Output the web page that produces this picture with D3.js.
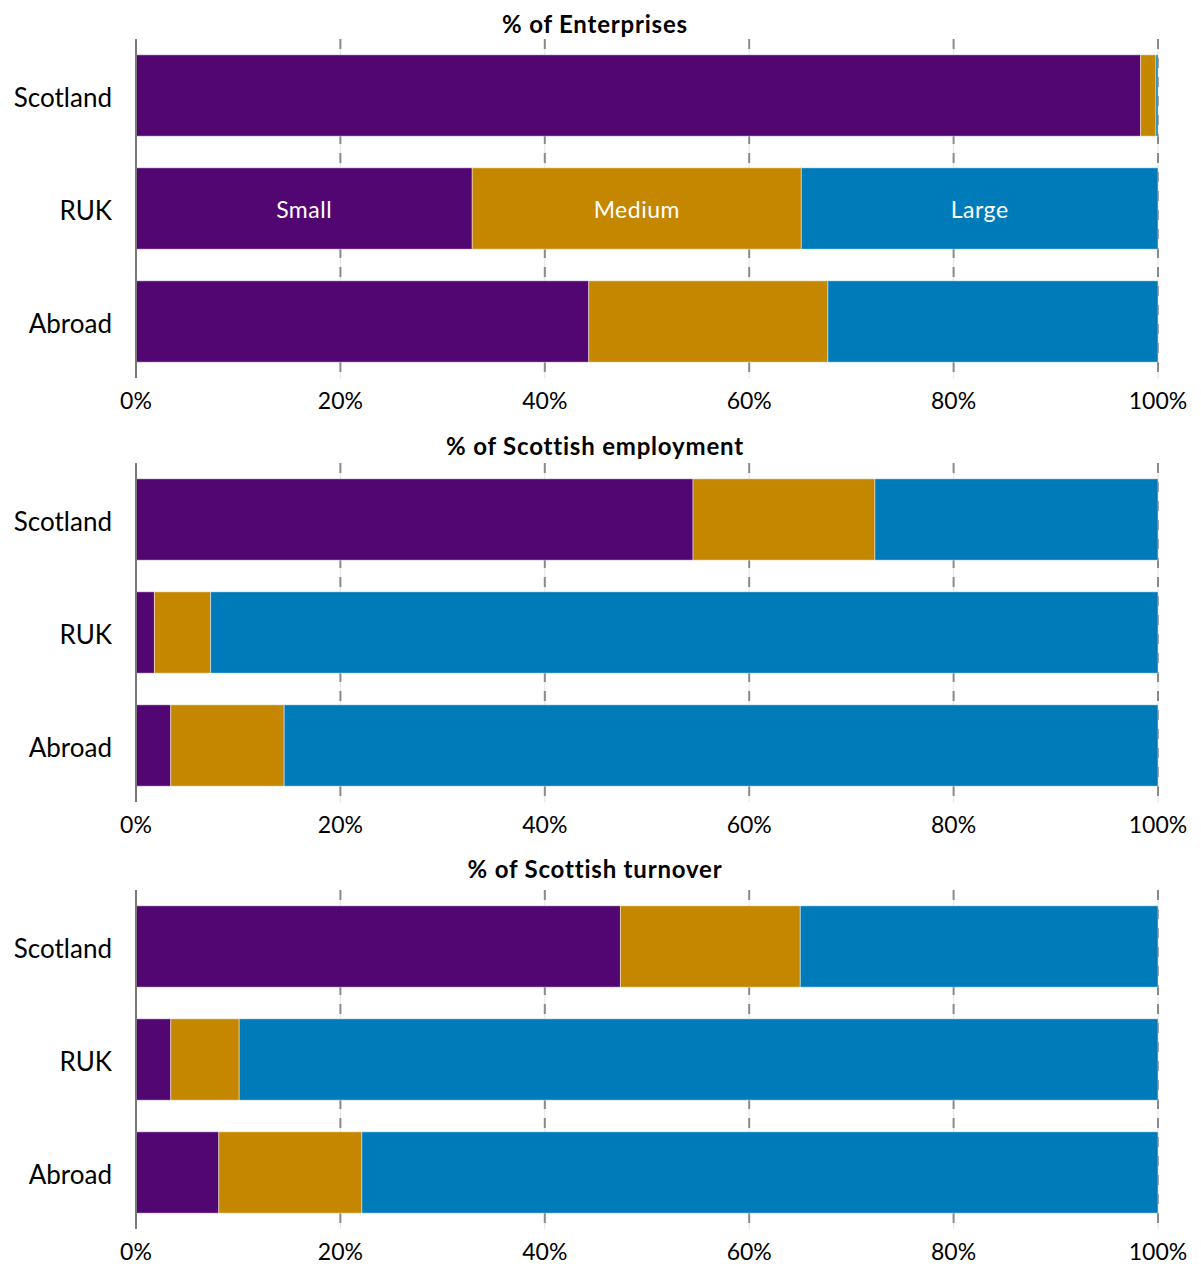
<!DOCTYPE html>
<html>
<head>
<meta charset="utf-8">
<script src="https://cdn.jsdelivr.net/npm/d3@7"></script>
<style>
  html, body { margin: 0; padding: 0; background: #fff; }
  svg { display: block; font-family: Lato, "Noto Sans", sans-serif; }
</style>
</head>
<body>
<svg id="chart" width="1201" height="1264"></svg>
<script>
// Business size breakdown by ownership location
const regions = ["Scotland", "RUK", "Abroad"];
const sizes = ["Small", "Medium", "Large"];
const panelTitles = ["% of Enterprises", "% of Scottish employment", "% of Scottish turnover"];
const tickValues = [0, 0.2, 0.4, 0.6, 0.8, 1];

// Shares (%) per region: [small, medium, large]
const enterprises = [[98.3, 1.5, 0.2], [32.9, 32.2, 34.9], [44.3, 23.4, 32.3]];
const employment  = [[54.5, 17.8, 27.7], [1.8, 5.5, 92.7], [3.4, 11.1, 85.5]];
const turnover    = [[47.4, 17.6, 35.0], [3.4, 6.7, 89.9], [8.1, 14.0, 77.9]];
const panels = [enterprises, employment, turnover];

const colors = ["#520671", "#c68700", "#007bba"];

const svg = d3.select("#chart");
const left = 136, right = 1158;
const plotH = 339;
const panelTops = [39, 463, 890];
const titleGap = [6, 8, 12];

const x = d3.scaleLinear().domain([0, 1]).range([left, right]);
const color = d3.scaleOrdinal().domain(sizes).range(colors);

panels.forEach((values, pi) => {
  const top = panelTops[pi];
  const bottom = top + plotH;
  const g = svg.append("g");

  const y = d3.scaleBand().domain(regions).range([top, bottom])
    .paddingInner(0.28).paddingOuter(0.14);

  // title
  g.append("text")
    .attr("x", 595)
    .attr("y", top - titleGap[pi])
    .attr("text-anchor", "middle")
    .attr("font-size", 24)
    .attr("font-weight", "bold")
    .attr("letter-spacing", 0.8)
    .attr("fill", "#000")
    .text(panelTitles[pi]);

  // gridlines
  const grid = g.append("g");
  tickValues.filter(t => t > 0).forEach(t => {
    grid.append("line")
      .attr("x1", x(t)).attr("x2", x(t))
      .attr("y1", top).attr("y2", bottom)
      .attr("stroke", "#e2e2e2").attr("stroke-width", 1);
    grid.append("line")
      .attr("x1", x(t)).attr("x2", x(t))
      .attr("y1", top).attr("y2", bottom)
      .attr("stroke", "#8a8a8a").attr("stroke-width", 2)
      .attr("stroke-dasharray", "10,9");
  });

  // stacked bars
  const rows = regions.map((r, i) => {
    const obj = { region: r };
    sizes.forEach((s, j) => obj[s] = values[i][j] / 100);
    return obj;
  });
  const stacked = d3.stack().keys(sizes)(rows);

  stacked.forEach(layer => {
    g.append("g").selectAll("rect")
      .data(layer)
      .join("rect")
      .attr("x", d => x(d[0]))
      .attr("y", d => y(d.data.region))
      .attr("width", d => Math.max(0, x(d[1]) - x(d[0])))
      .attr("height", y.bandwidth())
      .attr("fill", color(layer.key))
      .attr("stroke", "rgba(255,255,255,0.45)")
      .attr("stroke-width", 1);
  });

  // in-bar legend labels on the RUK row of the first panel
  if (pi === 0) {
    const rukLayers = stacked.map(layer => ({ key: layer.key, d: layer[1] }));
    g.append("g").selectAll("text")
      .data(rukLayers)
      .join("text")
      .attr("x", l => (x(l.d[0]) + x(l.d[1])) / 2)
      .attr("y", y("RUK") + y.bandwidth() / 2)
      .attr("dy", "0.4em")
      .attr("text-anchor", "middle")
      .attr("font-size", 23)
      .attr("letter-spacing", 0.5)
      .attr("fill", "#fff")
      .text(l => l.key);
  }

  // category axis line
  g.append("line")
    .attr("x1", left).attr("x2", left)
    .attr("y1", top).attr("y2", bottom)
    .attr("stroke", "#7a7a7a").attr("stroke-width", 2);

  // category labels
  g.append("g").selectAll("text")
    .data(regions)
    .join("text")
    .attr("x", 112)
    .attr("y", r => y(r) + y.bandwidth() / 2)
    .attr("dy", "0.45em")
    .attr("text-anchor", "end")
    .attr("font-size", 26)
    .attr("fill", "#000")
    .text(r => r);

  // value axis tick labels
  const fmt = d3.format(".0%");
  g.append("g").selectAll("text")
    .data(tickValues)
    .join("text")
    .attr("x", t => x(t))
    .attr("y", bottom + 22)
    .attr("dy", "0.4em")
    .attr("text-anchor", "middle")
    .attr("font-size", 23)
    .attr("fill", "#000")
    .text(t => fmt(t));
});
</script>
</body>
</html>
